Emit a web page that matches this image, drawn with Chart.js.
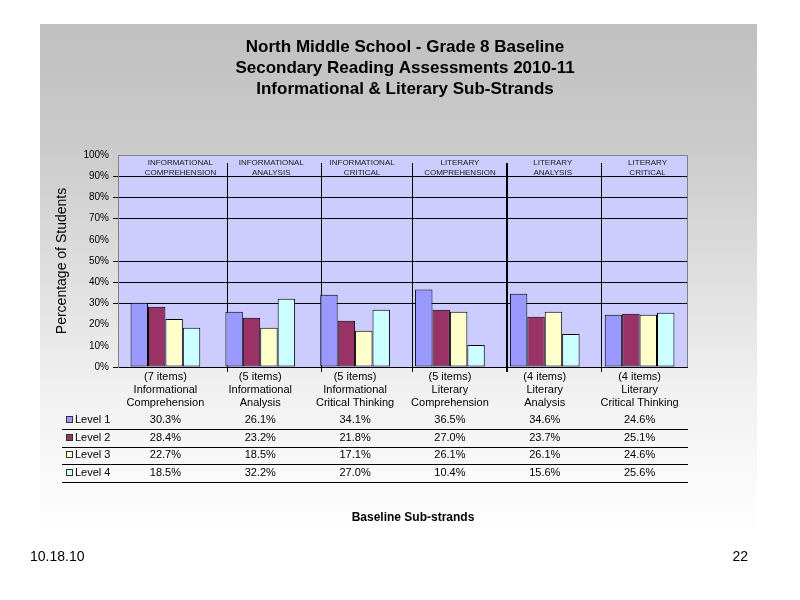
<!DOCTYPE html>
<html><head><meta charset="utf-8">
<script src="https://cdn.jsdelivr.net/npm/chart.js@4.4.0/dist/chart.umd.min.js"></script>
<style>html,body{margin:0;padding:0;background:#fff;}#wrap{width:800px;height:600px;}</style>
</head><body><div id="wrap"><canvas id="c" width="800" height="600"></canvas></div>
<script>
const categories = [
  ['(7 items)', 'Informational', 'Comprehension'],
  ['(5 items)', 'Informational', 'Analysis'],
  ['(5 items)', 'Informational', 'Critical Thinking'],
  ['(5 items)', 'Literary', 'Comprehension'],
  ['(4 items)', 'Literary', 'Analysis'],
  ['(4 items)', 'Literary', 'Critical Thinking']
];
const headerLabels = [
  ['INFORMATIONAL', 'COMPREHENSION'],
  ['INFORMATIONAL', 'ANALYSIS'],
  ['INFORMATIONAL', 'CRITICAL'],
  ['LITERARY', 'COMPREHENSION'],
  ['LITERARY', 'ANALYSIS'],
  ['LITERARY', 'CRITICAL']
];
const seriesNames = ['Level 1', 'Level 2', 'Level 3', 'Level 4'];
const level1 = [30.3, 26.1, 34.1, 36.5, 34.6, 24.6];
const level2 = [28.4, 23.2, 21.8, 27.0, 23.7, 25.1];
const level3 = [22.7, 18.5, 17.1, 26.1, 26.1, 24.6];
const level4 = [18.5, 32.2, 27.0, 10.4, 15.6, 25.6];
const yTickValues = [0, 10, 20, 30, 40, 50, 60, 70, 80, 90, 100];
const titleLines = ['North Middle School - Grade 8 Baseline', 'Secondary Reading Assessments 2010-11', 'Informational & Literary Sub-Strands'];
const yAxisTitle = 'Percentage of Students';
const xAxisTitle = 'Baseline Sub-strands';
const footerLeft = '10.18.10';
const footerRight = '22';

const seriesColors = ['#9999ff', '#993366', '#ffffcc', '#ccffff'];
const seriesData = [level1, level2, level3, level4];
const FONT = '"Liberation Sans", Arial, sans-serif';
const shownGrid = [0, 30, 40, 50, 70, 80, 90];

const decor = {
  id: 'decor',
  beforeDraw(chart) {
    const {ctx, chartArea: a} = chart;
    ctx.save();
    ctx.fillStyle = '#ffffff';
    ctx.fillRect(0, 0, chart.width, chart.height);
    const g = ctx.createLinearGradient(0, 24, 0, 535);
    g.addColorStop(0, '#c0c0c0');
    g.addColorStop(0.23, '#cacaca');
    g.addColorStop(0.72, '#f1f1f1');
    g.addColorStop(1, '#ffffff');
    ctx.fillStyle = g;
    ctx.fillRect(40, 24, 717, 511);
    ctx.fillStyle = '#ccccff';
    ctx.fillRect(a.left, a.top, a.right - a.left, a.bottom - a.top);
    ctx.restore();
  },
  beforeDatasetsDraw(chart) {
    const {ctx, chartArea: a, scales: {x}} = chart;
    ctx.save();
    // frame top / right
    ctx.strokeStyle = '#808080';
    ctx.lineWidth = 1;
    ctx.beginPath();
    ctx.moveTo(a.left, a.top + 0.5); ctx.lineTo(a.right + 0.5, a.top + 0.5); ctx.lineTo(a.right + 0.5, a.bottom);
    ctx.stroke();
    // separators
    const offs = [14, 13, 9, 10, 9];
    ctx.strokeStyle = '#000';
    for (let i = 0; i < categories.length - 1; i++) {
      const bx = (x.getPixelForValue(i) + x.getPixelForValue(i + 1)) / 2 + offs[i];
      const w = i === 3 ? 2 : 1;
      ctx.lineWidth = w;
      const px = w === 1 ? Math.round(bx) + 0.5 : Math.round(bx);
      ctx.beginPath();
      ctx.moveTo(px, a.top + 8); ctx.lineTo(px, a.bottom + 5);
      ctx.stroke();
    }
    // header labels
    ctx.fillStyle = '#1a1a1a';
    ctx.font = '8px ' + FONT;
    ctx.textAlign = 'center';
    ctx.textBaseline = 'middle';
    const hoff = [15, 11, 7, 10, 8, 8];
    headerLabels.forEach((lines, i) => {
      const cx = x.getPixelForValue(i) + hoff[i];
      lines.forEach((t, j) => ctx.fillText(t, cx, a.top + 8 + j * 10));
    });
    ctx.restore();
  },
  afterDraw(chart) {
    const {ctx, scales: {x}} = chart;
    ctx.save();
    ctx.fillStyle = '#000';
    ctx.textBaseline = 'middle';
    // title
    ctx.textAlign = 'center';
    ctx.font = 'bold 17px ' + FONT;
    titleLines.forEach((t, i) => ctx.fillText(t, 405, 47 + i * 21));
    // table
    ctx.font = '11px ' + FONT;
    seriesNames.forEach((name, r) => {
      const y = 420 + r * 17.5;
      ctx.fillStyle = seriesColors[r];
      ctx.fillRect(66, Math.round(y) - 4, 7, 7);
      ctx.strokeStyle = '#303030';
      ctx.lineWidth = 1;
      ctx.strokeRect(66.5, Math.round(y) - 3.5, 6, 6);
      ctx.fillStyle = '#000';
      ctx.textAlign = 'left';
      ctx.fillText(name, 75, y);
      ctx.textAlign = 'center';
      seriesData[r].forEach((v, i) => {
        ctx.fillText(v.toFixed(1) + '%', x.getPixelForValue(i), y);
      });
      const ly = Math.round(y + 9) + 0.5;
      ctx.beginPath();
      ctx.moveTo(62, ly); ctx.lineTo(688, ly);
      ctx.strokeStyle = '#000';
      ctx.stroke();
    });
    // x title
    ctx.font = 'bold 12px ' + FONT;
    ctx.textAlign = 'center';
    ctx.fillText(xAxisTitle, 413, 518);
    // footer
    ctx.font = '14px ' + FONT;
    ctx.textAlign = 'left';
    ctx.fillText(footerLeft, 30, 557);
    ctx.textAlign = 'right';
    ctx.fillText(footerRight, 748, 557);
    ctx.restore();
  }
};

new Chart(document.getElementById('c'), {
  type: 'bar',
  data: {
    labels: categories,
    datasets: seriesNames.map((n, i) => ({
      label: n,
      data: seriesData[i],
      backgroundColor: seriesColors[i],
      borderColor: '#000',
      borderWidth: 1,
      borderSkipped: false,
      categoryPercentage: 0.735,
      barPercentage: 1.0
    }))
  },
  options: {
    responsive: false,
    animation: false,
    layout: {padding: {left: 54, right: 113, top: 155, bottom: 183}},
    plugins: {legend: {display: false}, tooltip: {enabled: false}, title: {display: false}},
    scales: {
      x: {
        offset: true,
        grid: {display: false, drawTicks: false},
        border: {display: true, color: '#000', width: 1},
        ticks: {color: '#000', font: {family: FONT, size: 11, lineHeight: 1.15}, padding: 4, maxRotation: 0, autoSkip: false},
        afterFit: s => { s.height = 50; }
      },
      y: {
        min: 0, max: 100,
        afterBuildTicks: s => { s.ticks = yTickValues.map(v => ({value: v})); },
        grid: {
          color: c => shownGrid.includes(c.tick.value) ? '#000' : 'rgba(0,0,0,0)',
          tickLength: 5, drawTicks: true, lineWidth: 1
        },
        border: {display: true, color: '#808080', width: 1},
        ticks: {color: '#000', font: {family: FONT, size: 10}, padding: 4, callback: v => v + '%'},
        title: {display: true, text: yAxisTitle, color: '#000', font: {family: FONT, size: 14}, padding: 0},
        afterFit: s => { s.width = 64; }
      }
    }
  },
  plugins: [decor]
});
</script>
</body></html>
